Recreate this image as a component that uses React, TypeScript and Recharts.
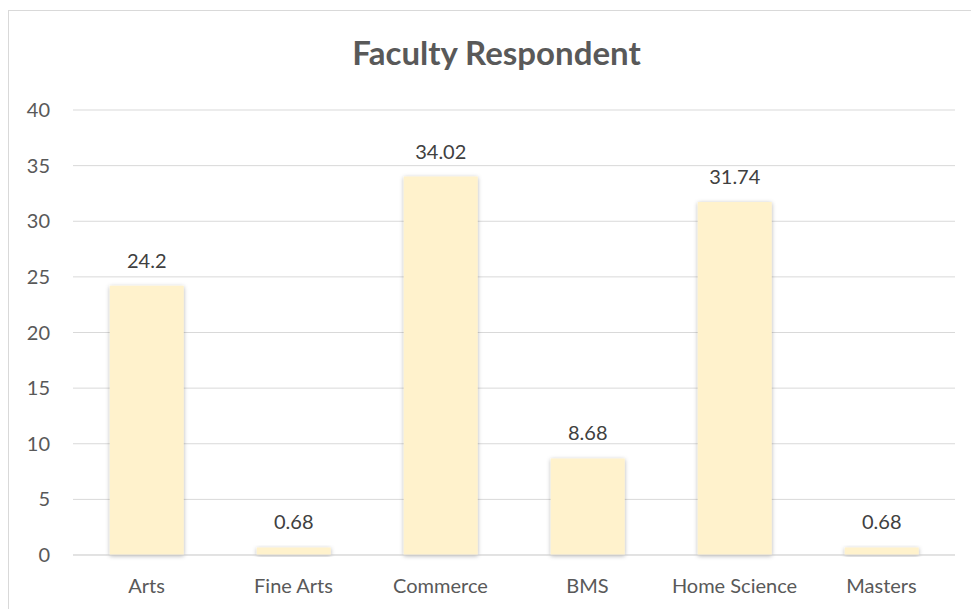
import { Bar, BarChart, CartesianGrid, LabelList, XAxis, YAxis } from 'recharts';

const categories = ['Arts', 'Fine Arts', 'Commerce', 'BMS', 'Home Science', 'Masters'];
const respondents = [24.2, 0.68, 34.02, 8.68, 31.74, 0.68];
const yTicks = [0, 5, 10, 15, 20, 25, 30, 35, 40];

const data = categories.map((name, i) => ({ name, value: respondents[i] }));

const FONT = 'Lato, "Open Sans", sans-serif';

export default function App() {
  return (
    <div
      style={{
        position: 'fixed',
        left: 0,
        top: 0,
        width: 971,
        height: 609,
        overflow: 'hidden',
        background: '#fff',
        fontFamily: FONT,
      }}
    >
      <div
        style={{
          position: 'absolute',
          left: 8,
          top: 10,
          width: 990,
          height: 640,
          border: '1px solid #d9d9d9',
        }}
      />
      <div
        style={{
          position: 'absolute',
          left: 0,
          width: 993,
          top: 32,
          textAlign: 'center',
          fontSize: 33,
          fontWeight: 700,
          color: '#595959',
          lineHeight: '40px',
        }}
      >
        Faculty Respondent
      </div>
      <BarChart
        width={971}
        height={609}
        data={data}
        margin={{ top: 110, right: 16, left: 0, bottom: 0 }}
        barCategoryGap="25%"
        style={{ position: 'absolute', left: 0, top: 0 }}
      >
        <defs>
          <filter id="barShadow" x="-20%" y="-20%" width="140%" height="140%">
            <feDropShadow dx="0" dy="1" stdDeviation="2" floodColor="#000" floodOpacity="0.3" />
          </filter>
        </defs>
        <CartesianGrid vertical={false} stroke="#d9d9d9" />
        <XAxis
          dataKey="name"
          height={54}
          tickLine={false}
          tickSize={0}
          tickMargin={24}
          axisLine={{ stroke: '#d9d9d9' }}
          tick={{ fontSize: 20, fill: '#595959', fontFamily: FONT }}
        />
        <YAxis
          width={73}
          domain={[0, 40]}
          ticks={yTicks}
          axisLine={false}
          tickLine={false}
          tickSize={0}
          tickMargin={23}
          tick={{ fontSize: 20, fill: '#595959', fontFamily: FONT }}
        />
        <Bar dataKey="value" fill="#FFF2CC" filter="url(#barShadow)" isAnimationActive={false}>
          <LabelList
            dataKey="value"
            position="top"
            offset={18}
            style={{ fontSize: 20, fill: '#404040', fontFamily: FONT }}
          />
        </Bar>
      </BarChart>
    </div>
  );
}
